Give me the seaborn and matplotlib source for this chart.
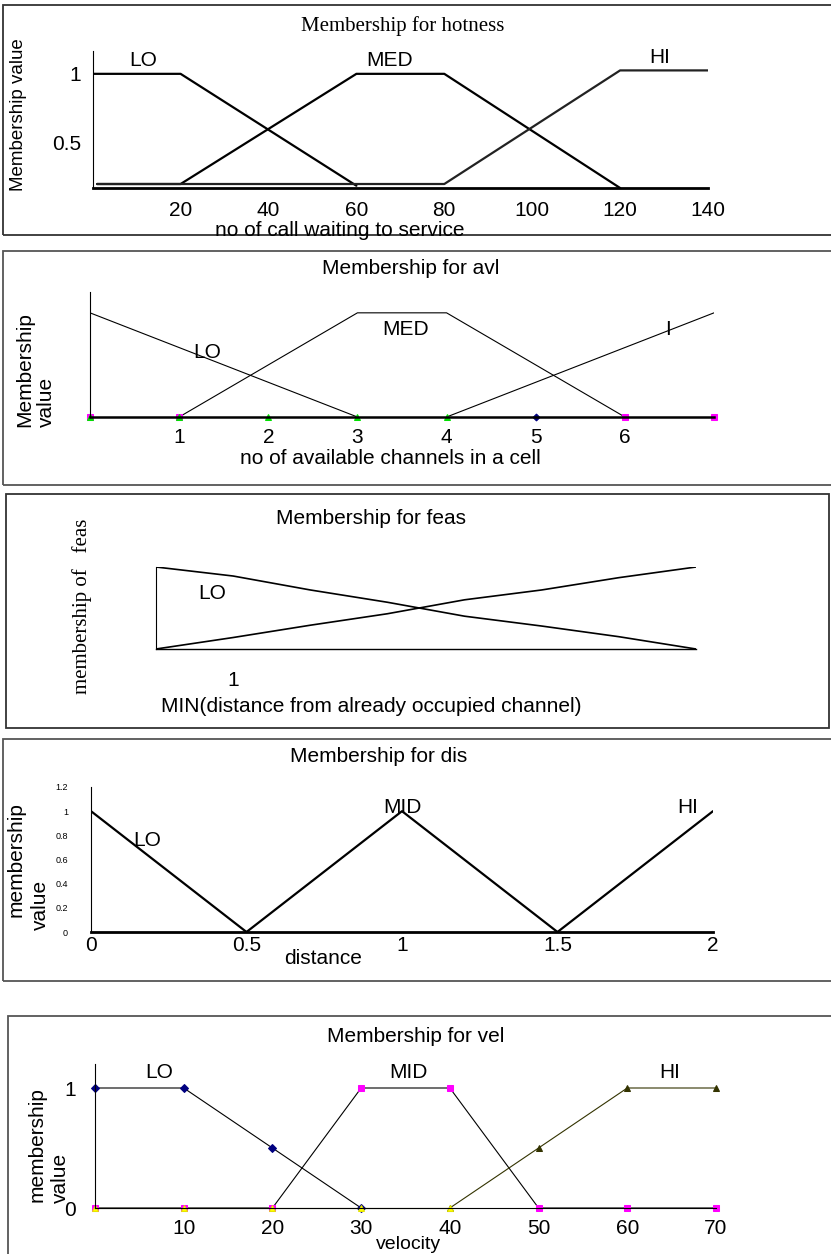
import numpy as np
import matplotlib.pyplot as plt
import seaborn as sns
from matplotlib.patches import Rectangle

sns.set_style("white")
plt.rcParams['font.family'] = ['Liberation Sans', 'DejaVu Sans']
plt.rcParams['text.color'] = 'black'
plt.rcParams['xtick.color'] = 'black'
plt.rcParams['ytick.color'] = 'black'
plt.rcParams['axes.labelcolor'] = 'black'

# ---- data: hotness ----
hot_lo_x = [0, 20, 60]
hot_lo_y = [1, 1, 0.02]
hot_med_x = [1, 20, 60, 80, 120]
hot_med_y = [0.035, 0.035, 1, 1, 0]
hot_hi_x = [1, 80, 120, 140]
hot_hi_y = [0.035, 0.035, 1.03, 1.03]
hot_xticks = [20, 40, 60, 80, 100, 120, 140]
hot_yticks = [0, 0.2, 0.4, 0.6, 0.8, 1.0, 1.2]
hot_ylabels = ['', '', '0.5', '', '', '1', '']

# ---- data: avl ----
avl_lo_x = [0, 3]
avl_lo_y = [1, 0]
avl_med_x = [1, 3, 4, 6]
avl_med_y = [0, 1, 1, 0]
avl_hi_x = [4, 7]
avl_hi_y = [0, 1]
avl_sq_x = [0, 1, 6, 7]
avl_tri_x = [0, 1, 2, 3, 4]
avl_dia_x = [5]
avl_xticks = [1, 2, 3, 4, 5, 6]

# ---- data: feas ----
feas_x = [0, 1, 2, 3, 4, 5, 6, 7]
feas_lo = [1, 0.89, 0.72, 0.57, 0.40, 0.28, 0.15, 0]
feas_hi = [0, 0.14, 0.29, 0.43, 0.60, 0.72, 0.87, 1]
feas_xlabels = ['', '1', '', '', '', '', '', '']

# ---- data: dis ----
dis_lo_x = [0, 0.5]
dis_lo_y = [1, 0]
dis_mid_x = [0.5, 1, 1.5]
dis_mid_y = [0, 1, 0]
dis_hi_x = [1.5, 2]
dis_hi_y = [0, 1]
dis_xticks = [0, 0.5, 1, 1.5, 2]
dis_xlabels = ['0', '0.5', '1', '1.5', '2']
dis_yticks = [0, 0.2, 0.4, 0.6, 0.8, 1.0, 1.2]
dis_ylabels = ['0', '0.2', '0.4', '0.6', '0.8', '1', '1.2']

# ---- data: vel ----
vel_x = [0, 10, 20, 30, 40, 50, 60, 70]
vel_lo_x = [0, 10, 20, 30]
vel_lo = [1, 1, 0.5, 0]
vel_mid = [0, 0, 0, 1, 1, 0, 0, 0]
vel_hi_x = [40, 50, 60, 70]
vel_hi = [0, 0.5, 1, 1]
vel_zero_x = [0, 10, 20, 30, 40]
vel_xticks = [10, 20, 30, 40, 50, 60, 70]
vel_yticks = [0, 0.2, 0.4, 0.6, 0.8, 1.0, 1.2]
vel_ylabels = ['0', '', '', '', '', '1', '']

W, H = 831, 1254
fig = plt.figure(figsize=(W / 100, H / 100), dpi=100)


def add_ax(left, top, right, bottom):
    return fig.add_axes([left / W, 1 - bottom / H, (right - left) / W, (bottom - top) / H])


def ftext(x, y, s, **kw):
    fig.text(x / W, 1 - y / H, s, **kw)


def frame(left, top, right, bottom, color='#333333'):
    fig.add_artist(Rectangle((left / W, 1 - bottom / H), (right - left) / W, (bottom - top) / H,
                             transform=fig.transFigure, fill=False, edgecolor=color, lw=1.3))


def style(ax, bottom_lw=1.0):
    for s in ['top', 'right']:
        ax.spines[s].set_visible(False)
    ax.spines['left'].set_color('k')
    ax.spines['left'].set_linewidth(0.8)
    ax.spines['bottom'].set_color('k')
    ax.spines['bottom'].set_linewidth(bottom_lw)
    ax.set_xlabel('')
    ax.set_ylabel('')


# panel frames
frame(3, 5, 840, 235)
frame(3, 251, 840, 485, '#555555')
frame(6, 494, 829, 728)
frame(3, 739, 840, 981, '#555555')
frame(8, 1016, 840, 1265, '#555555')

# ---------- panel 1: hotness ----------
ax1 = add_ax(92.7, 51, 708, 188)
for xs, ys, c in [(hot_lo_x, hot_lo_y, 'k'), (hot_med_x, hot_med_y, 'k'), (hot_hi_x, hot_hi_y, '#222222')]:
    sns.lineplot(x=xs, y=ys, ax=ax1, color=c, lw=1.6)
ax1.set_xlim(0, 140)
ax1.set_ylim(0, 1.2)
ax1.set_xticks(hot_xticks, [str(v) for v in hot_xticks], fontsize=15)
ax1.set_yticks(hot_yticks, hot_ylabels, fontsize=15)
ax1.tick_params(axis='x', length=0, pad=9)
ax1.tick_params(axis='y', length=5.5, width=0.8, pad=3, color='k')
style(ax1, 2.0)
ax1.text(11.4, 1.12, 'LO', fontsize=15, ha='center', va='center')
ax1.text(67.6, 1.12, 'MED', fontsize=15, ha='center', va='center')
ax1.text(129, 1.14, 'HI', fontsize=15, ha='center', va='center')
ftext(403, 26, 'Membership for hotness', fontsize=15, family='Liberation Serif', ha='center', va='center')
ftext(340, 230, 'no of call waiting to service', fontsize=15, ha='center', va='center')
ftext(19, 115, 'Membership value', fontsize=13.5, rotation=90, ha='center', va='center')

# ---------- panel 2: avl ----------
ax2 = add_ax(90, 292, 714, 417)
for xs, ys in [(avl_lo_x, avl_lo_y), (avl_med_x, avl_med_y), (avl_hi_x, avl_hi_y)]:
    sns.lineplot(x=xs, y=ys, ax=ax2, color='k', lw=0.8)
sns.lineplot(x=avl_sq_x, y=[0] * len(avl_sq_x), ax=ax2, lw=0, marker='s', ms=5,
             color='#ff00ff', mec='#ff00ff', clip_on=False)
sns.lineplot(x=avl_tri_x, y=[0] * len(avl_tri_x), ax=ax2, lw=0, marker='^', ms=5,
             color='#00e000', mec='#00e000', clip_on=False)
sns.lineplot(x=avl_dia_x, y=[0] * len(avl_dia_x), ax=ax2, lw=0, marker='D', ms=3.5,
             color='#000080', mec='#000080', clip_on=False)
ax2.set_xlim(0, 7)
ax2.set_ylim(0, 1.2)
ax2.set_xticks(avl_xticks, [str(v) for v in avl_xticks], fontsize=15)
ax2.set_yticks(hot_yticks, [''] * len(hot_yticks))
ax2.tick_params(axis='x', length=0, pad=8)
ax2.tick_params(axis='y', length=5.5, width=0.8, color='k')
style(ax2, 1.8)
ax2.text(1.31, 0.615, 'LO', fontsize=15, ha='center', va='center')
ax2.text(3.54, 0.84, 'MED', fontsize=15, ha='center', va='center')
ax2.text(6.48, 0.84, 'I', fontsize=15, ha='center', va='center')
ftext(411, 268, 'Membership for avl', fontsize=15, ha='center', va='center')
ftext(390, 459, 'no of available channels in a cell', fontsize=15, ha='center', va='center')
ftext(25, 427, 'Membership', fontsize=15, rotation=90, ha='center', va='bottom')
ftext(46, 427, 'value', fontsize=15, rotation=90, ha='center', va='bottom')

# ---------- panel 3: feas ----------
ax3 = add_ax(156, 567, 696, 649)
sns.lineplot(x=feas_x, y=feas_lo, ax=ax3, color='k', lw=1.2)
sns.lineplot(x=feas_x, y=feas_hi, ax=ax3, color='k', lw=1.2)
ax3.set_xlim(0, 7)
ax3.set_ylim(0, 1)
ax3.set_xticks(feas_x, feas_xlabels, fontsize=15)
ax3.set_yticks([0, 0.2, 0.4, 0.6, 0.8, 1.0], [''] * 6)
ax3.tick_params(axis='x', length=5, width=0.8, pad=11, color='k')
ax3.tick_params(axis='y', length=5.5, width=0.8, color='k')
style(ax3, 1.0)
ax3.text(0.73, 0.68, 'LO', fontsize=15, ha='center', va='center')
ftext(371, 518, 'Membership for feas', fontsize=15, ha='center', va='center')
ftext(371, 706, 'MIN(distance from already occupied channel)', fontsize=15, ha='center', va='center')
ftext(82, 606, 'membership of   feas', fontsize=15, family='Liberation Serif', rotation=90,
      ha='center', va='center')

# ---------- panel 4: dis ----------
ax4 = add_ax(91, 787, 713, 932)
for xs, ys in [(dis_lo_x, dis_lo_y), (dis_mid_x, dis_mid_y), (dis_hi_x, dis_hi_y)]:
    sns.lineplot(x=xs, y=ys, ax=ax4, color='k', lw=1.6)
ax4.set_xlim(0, 2)
ax4.set_ylim(0, 1.2)
ax4.set_xticks(dis_xticks, dis_xlabels, fontsize=15)
ax4.set_yticks(dis_yticks, dis_ylabels, fontsize=6.5)
ax4.tick_params(axis='x', length=0, pad=3)
ax4.tick_params(axis='y', length=4.5, width=0.8, pad=12, color='k')
style(ax4, 2.0)
ax4.text(0.18, 0.76, 'LO', fontsize=15, ha='center', va='center')
ax4.text(1.0, 1.03, 'MID', fontsize=15, ha='center', va='center')
ax4.text(1.92, 1.03, 'HI', fontsize=15, ha='center', va='center')
ftext(379, 757, 'Membership for dis', fontsize=15, ha='center', va='center')
ftext(323, 959, 'distance', fontsize=15, ha='center', va='center')
ftext(16, 917, 'membership', fontsize=15, rotation=90, ha='center', va='bottom')
ftext(40, 930, 'value', fontsize=15, rotation=90, ha='center', va='bottom')

# ---------- panel 5: vel ----------
ax5 = add_ax(95, 1064, 716, 1208)
sns.lineplot(x=vel_lo_x, y=vel_lo, ax=ax5, color='k', lw=0.8, marker='D', ms=4,
             mfc='#000080', mec='#000080', clip_on=False)
sns.lineplot(x=vel_x, y=vel_mid, ax=ax5, color='k', lw=0.8, marker='s', ms=5,
             mfc='#ff00ff', mec='#ff00ff', clip_on=False)
sns.lineplot(x=vel_hi_x, y=vel_hi, ax=ax5, color='#333300', lw=0.8, marker='^', ms=5,
             mfc='#333300', mec='#333300', clip_on=False)
sns.lineplot(x=vel_zero_x, y=[0] * len(vel_zero_x), ax=ax5, color='#666600', lw=0.8,
             marker='^', ms=5, mfc='#ffff00', mec='#e6e600', clip_on=False)
ax5.set_xlim(0, 70)
ax5.set_ylim(0, 1.2)
ax5.set_xticks(vel_xticks, [str(v) for v in vel_xticks], fontsize=15)
ax5.set_yticks(vel_yticks, vel_ylabels, fontsize=15)
ax5.tick_params(axis='x', length=0, pad=8)
ax5.tick_params(axis='y', length=4.5, width=0.8, pad=9, color='k')
style(ax5, 0.8)
ax5.text(7.2, 1.125, 'LO', fontsize=15, ha='center', va='center')
ax5.text(35.3, 1.13, 'MID', fontsize=15, ha='center', va='center')
ax5.text(64.8, 1.13, 'HI', fontsize=15, ha='center', va='center')
ftext(416, 1037, 'Membership for vel', fontsize=15, ha='center', va='center')
ftext(408, 1253, 'velocity', fontsize=14, ha='center', va='bottom')
ftext(37, 1202, 'membership', fontsize=15, rotation=90, ha='center', va='bottom')
ftext(60, 1203, 'value', fontsize=15, rotation=90, ha='center', va='bottom')

plt.savefig('out.png', dpi=100)
